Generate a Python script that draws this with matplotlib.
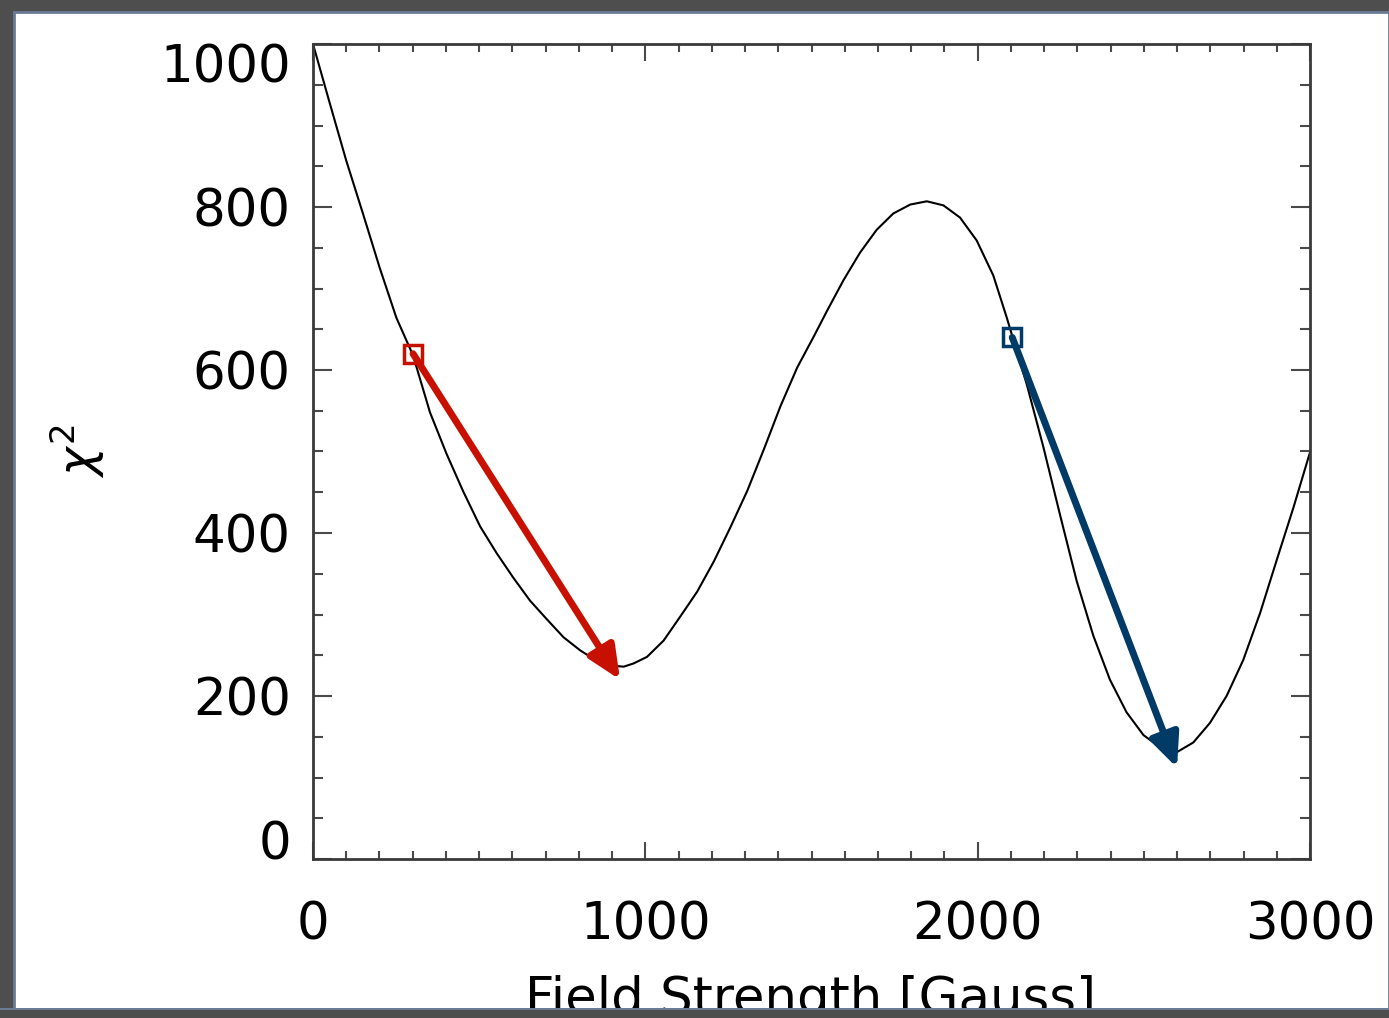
import matplotlib
matplotlib.use('Agg')
import matplotlib.pyplot as plt
from matplotlib.patches import Rectangle
from matplotlib.ticker import MultipleLocator

# chi^2 curve
field = [0, 50, 100, 151, 201, 251, 301, 352, 402, 452, 503, 553, 603, 653,
         704, 754, 804, 854, 905, 935, 965, 1005, 1055, 1106, 1156, 1206,
         1256, 1307, 1357, 1407, 1457, 1508, 1546, 1596, 1646, 1696, 1746,
         1797, 1847, 1897, 1947, 1997, 2047, 2087, 2148, 2198, 2248, 2298,
         2348, 2398, 2448, 2499, 2549, 2599, 2649, 2699, 2749, 2799, 2850,
         2900, 2950, 3000]
chi2 = [1000, 928, 857, 791, 725, 664, 618, 548, 497, 451, 408, 375, 345, 317,
        294, 272, 256, 243, 237, 236, 240, 248, 268, 298, 328, 365,
        407, 452, 503, 556, 603, 642, 672, 710, 744, 772, 792,
        803, 807, 802, 787, 759, 716, 665, 582, 505, 422, 341,
        274, 220, 180, 152, 137, 131, 143, 167, 200, 244, 302,
        367, 431, 499]

# start points (squares) and arrow tips
red_start = (301, 620)
red_end = (924, 220)
blue_start = (2104, 640)
blue_end = (2600, 112)

red = '#c81000'
blue = '#003a66'

W, H = 1389, 1018
fig = plt.figure(figsize=(W / 100, H / 100), dpi=100)
fig.patch.set_facecolor('#4e4e4e')
fig.add_artist(Rectangle((14 / W, 8 / H), 1 - 14 / W, 1 - 20 / H,
                         transform=fig.transFigure, facecolor='white',
                         edgecolor='#6b7b95', linewidth=2, zorder=-1))

ax = fig.add_axes([313 / W, 1 - 859 / H, 997 / W, 815 / H])
ax.plot(field, chi2, color='black', lw=1.5)

for start, end, col in [(red_start, red_end, red), (blue_start, blue_end, blue)]:
    ax.annotate('', xy=end, xytext=start,
                arrowprops=dict(arrowstyle='-|>,head_length=1.0,head_width=0.45',
                                mutation_scale=20, lw=5, color=col,
                                shrinkA=0, shrinkB=0))
    ax.plot(*start, 's', ms=13, mfc='none', mec=col, mew=2.5, zorder=5)

ax.set_xlim(0, 3000)
ax.set_ylim(0, 1000)
ax.xaxis.set_major_locator(MultipleLocator(1000))
ax.xaxis.set_minor_locator(MultipleLocator(100))
ax.yaxis.set_major_locator(MultipleLocator(200))
ax.yaxis.set_minor_locator(MultipleLocator(50))

for s in ax.spines.values():
    s.set_color('#3a3a3a')
    s.set_linewidth(2)
ax.tick_params(which='both', direction='in', top=True, right=True,
               color='#4a4a4a', width=1.5, labelsize=37)
ax.tick_params(axis='x', which='major', length=12, pad=30)
ax.tick_params(axis='x', which='minor', length=6)
ax.tick_params(axis='y', which='major', length=14, pad=16)
ax.tick_params(axis='y', which='minor', length=7)

ax.text(-0.236, 0.50, r'$\chi^2$', transform=ax.transAxes, rotation=90,
        ha='center', va='center', fontsize=35)
fig.text(811 / W, 4 / H, 'Field Strength [Gauss]', ha='center',
         va='baseline', fontsize=37)

# bottom edge of the frame cuts through the axis title
fig.add_artist(Rectangle((0, 0), 1, 8 / H, transform=fig.transFigure,
                         facecolor='#4e4e4e', edgecolor='none', zorder=10))
fig.add_artist(Rectangle((0, 8 / H), 1, 2 / H, transform=fig.transFigure,
                         facecolor='#6b7b95', edgecolor='none', zorder=10))

# end labels of the y axis sit inside the axis range
fig.canvas.draw()
for tick in ax.yaxis.get_major_ticks():
    loc = tick.get_loc()
    if abs(loc) < 1e-6:
        tick.label1.set_va('baseline')
    elif abs(loc - 1000) < 1e-6:
        tick.label1.set_va('top')

fig.savefig('out.png', dpi=100, facecolor=fig.get_facecolor())
